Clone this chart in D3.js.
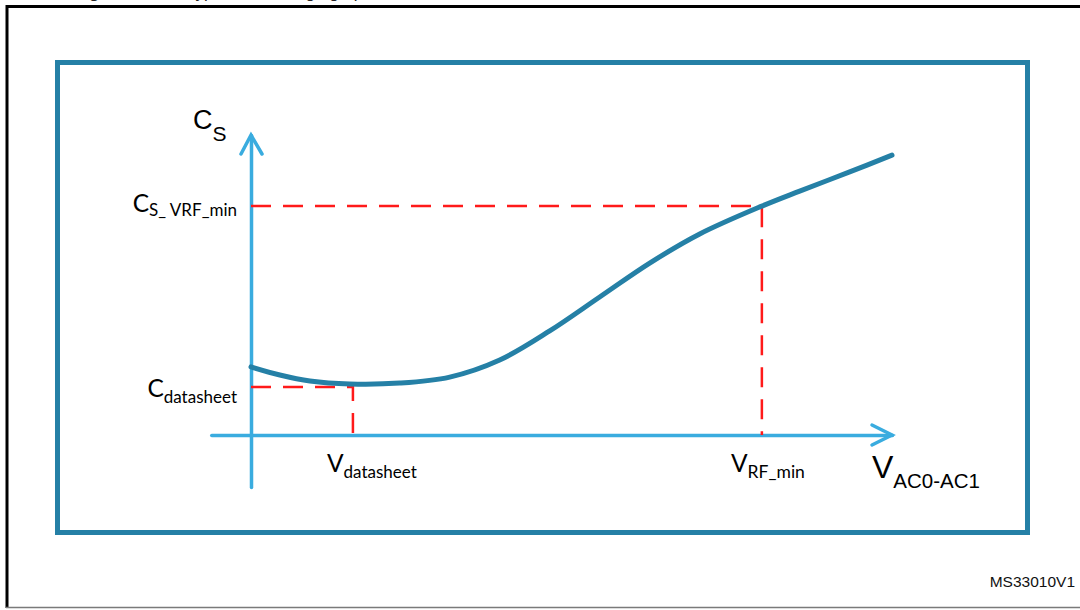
<!DOCTYPE html>
<html><head><meta charset="utf-8">
<script src="https://cdn.jsdelivr.net/npm/d3@7/dist/d3.min.js"></script>
<style>html,body{margin:0;padding:0;background:#fff;}svg{display:block;}</style>
</head><body>
<svg id="chart" width="1080" height="610"></svg>
<script>
// ---- data (abstract, normalised units) ----
const curveX = [0, 0.045, 0.092, 0.154, 0.232, 0.310, 0.388, 0.466, 0.544, 0.622, 0.700, 0.797, 0.856, 0.934, 1.0];
const curveY = [0.227, 0.200, 0.180, 0.170, 0.173, 0.193, 0.250, 0.347, 0.460, 0.573, 0.670, 0.763, 0.813, 0.877, 0.933];
const markerNames = ["datasheet", "VRF_min"];
const markerX = [0.159, 0.797];
const markerY = [0.160, 0.763];
const xAxisDomain = [-0.062, 1.0];
const yAxisDomain = [-0.173, 1.0];

const svg = d3.select("#chart");
const x = d3.scaleLinear().domain([0, 1]).range([251, 892]);
const y = d3.scaleLinear().domain([0, 1]).range([435, 135]);

const axisBlue = "#3aacdf", teal = "#2580a6", red = "#ff1a1a";

// outer document frame
svg.append("line").attr("x1", 7).attr("x2", 1080).attr("y1", 6.5).attr("y2", 6.5).attr("stroke", "#000").attr("stroke-width", 3);
svg.append("line").attr("x1", 7).attr("x2", 7).attr("y1", 5).attr("y2", 608).attr("stroke", "#000").attr("stroke-width", 3);
svg.append("line").attr("x1", 6).attr("x2", 1080).attr("y1", 607.5).attr("y2", 607.5).attr("stroke", "#7a7a7a").attr("stroke-width", 1.5);

// caption, clipped by the top edge as in the reference
const cap = svg.append("text").attr("y", -2).attr("font-family", "Liberation Sans, Arial, sans-serif").attr("font-size", 17).attr("fill", "#222");
cap.append("tspan").attr("x", 74).attr("font-weight", "bold").text("Figure 4.");
cap.append("tspan").attr("x", 186).text("Typical C");
cap.append("tspan").attr("font-size", 12).text("S");
cap.append("tspan").text(" change graph");

// inner teal frame
svg.append("rect").attr("x", 57.5).attr("y", 62.5).attr("width", 970).attr("height", 470)
  .attr("fill", "none").attr("stroke", teal).attr("stroke-width", 5);

// axes
const xAxisScale = d3.scaleLinear().domain(xAxisDomain).range([x(xAxisDomain[0]), x(xAxisDomain[1])]);
const yAxisScale = d3.scaleLinear().domain(yAxisDomain).range([y(yAxisDomain[0]), y(yAxisDomain[1])]);
const gx = svg.append("g").attr("transform", `translate(0,${y(0)})`)
  .call(d3.axisBottom(xAxisScale).tickValues([]).tickSizeOuter(0));
const gy = svg.append("g").attr("transform", `translate(${x(0)},0)`)
  .call(d3.axisLeft(yAxisScale).tickValues([]).tickSizeOuter(0));
[gx, gy].forEach(g => g.select(".domain").attr("stroke", axisBlue).attr("stroke-width", 3.5).attr("stroke-linecap", "round"));

// arrow heads
svg.append("path").attr("d", `M${x(1) - 20},${y(0) - 10} L${x(1)},${y(0)} L${x(1) - 20},${y(0) + 10}`)
  .attr("fill", "none").attr("stroke", axisBlue).attr("stroke-width", 3.5).attr("stroke-linecap", "round").attr("stroke-linejoin", "miter");
svg.append("path").attr("d", `M${x(0) - 10},${y(1) + 19} L${x(0)},${y(1)} L${x(0) + 11},${y(1) + 19}`)
  .attr("fill", "none").attr("stroke", axisBlue).attr("stroke-width", 3.5).attr("stroke-linecap", "round").attr("stroke-linejoin", "miter");

// dashed guide lines
markerX.forEach((mx, i) => {
  const my = markerY[i];
  svg.append("path").attr("d", `M${x(0)},${y(my)} H${x(mx)} V${y(0)}`)
    .attr("fill", "none").attr("stroke", red).attr("stroke-width", 2.5).attr("stroke-dasharray", "20,12");
});

// curve
const pts = curveX.map((v, i) => [v, curveY[i]]);
svg.append("path").datum(pts)
  .attr("d", d3.line().x(d => x(d[0])).y(d => y(d[1])).curve(d3.curveCatmullRom.alpha(0.5)))
  .attr("fill", "none").attr("stroke", teal).attr("stroke-width", 5).attr("stroke-linecap", "round");

// labels
const cal = "Lato, 'Open Sans', sans-serif";
const ari = "'Liberation Sans', Arial, sans-serif";
function label(xp, yp, main, sub, fam, fsMain, fsSub, dy, anchor) {
  const t = svg.append("text").attr("x", xp).attr("y", yp).attr("font-family", fam).attr("fill", "#000").attr("text-anchor", anchor || "start");
  t.append("tspan").attr("font-size", fsMain).text(main);
  t.append("tspan").attr("font-size", fsSub).attr("dy", dy).text(sub);
  return t;
}
// y-axis title
label(193, 129, "C", "S", ari, 27, 21, 12);
// x-axis title
label(872, 478, "V", "AC0-AC1", ari, 32, 20.5, 10);
// y marker labels
label(x(0) - 14, y(markerY[1]) + 6, "C", "S_ VRF_min", cal, 24.5, 17, 4, "end");
label(x(0) - 14, y(markerY[0]) + 10, "C", "datasheet", cal, 24.5, 17, 6, "end");
// x marker labels
label(327, 472, "V", "datasheet", cal, 24.5, 17, 6);
label(731, 472, "V", "RF_min", cal, 24.5, 17.5, 6);

svg.append("text").attr("x", 1075).attr("y", 587).attr("text-anchor", "end")
  .attr("font-family", ari).attr("font-size", 15.5).attr("fill", "#111").text("MS33010V1");
</script>
</body></html>
